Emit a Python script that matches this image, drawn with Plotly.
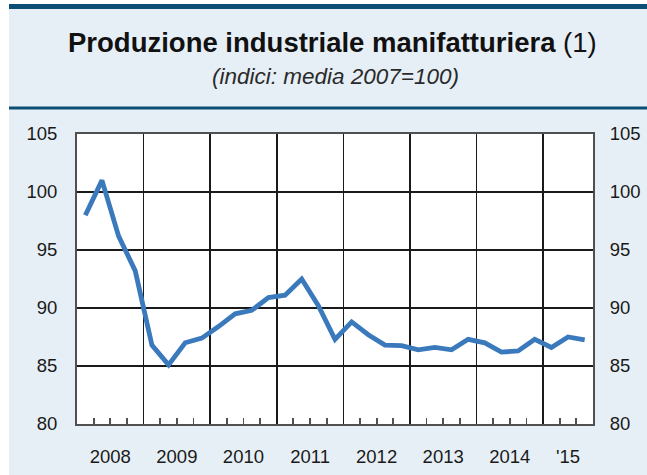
import plotly.graph_objects as go

# ---------------- data ----------------
years = [2008, 2009, 2010, 2011, 2012, 2013, 2014, 2015]
year_labels = ["2008", "2009", "2010", "2011", "2012", "2013", "2014", "'15"]
quarters = [f"{y}Q{q}" for y in years for q in (1, 2, 3, 4)][:31]  # 2008Q1 .. 2015Q3
values = [
    98.0, 101.0, 96.2, 93.2,      # 2008
    86.8, 85.1, 87.0, 87.4,       # 2009
    88.4, 89.5, 89.8, 90.9,       # 2010
    91.1, 92.5, 90.2, 87.3,       # 2011
    88.8, 87.7, 86.8, 86.75,      # 2012
    86.4, 86.6, 86.4, 87.3,       # 2013
    87.0, 86.2, 86.3, 87.3,       # 2014
    86.6, 87.5, 87.25,            # 2015
]
y_ticks = [80, 85, 90, 95, 100, 105]

# quarter label -> position on a continuous year scale (mid-quarter)
def qpos(label):
    y, q = label.split("Q")
    return int(y) + (int(q) - 0.5) / 4.0

x = [qpos(q) for q in quarters]
x_end = years[-1] + 0.75
year_bounds = years[1:]
quarter_bounds = [y + f for y in years for f in (0.25, 0.5, 0.75) if y + f < x_end]
label_pos = [y + 0.5 for y in years[:-1]] + [(years[-1] + x_end) / 2]

# ---------------- layout geometry (reference pixels) ----------------
# canvas slightly larger than the 647x475 window so the page is shown 1:1
W, H = 657, 482
L, T = 77, 134
R, B = W - 593, H - 424
PW, PH = W - L - R, H - T - B

def px(xp):
    return (xp - L) / PW

def py(yp):
    return (H - B - yp) / PH

FONT = "Liberation Sans, Arial, sans-serif"
TXT = "#1a1a1a"
GRID = "#1a1a1a"
BORDER = "#505050"
PANEL = "#e7eff6"
DARK = "#0d4e74"
LINE = "#3a7abc"

fig = go.Figure()
fig.add_trace(go.Scatter(x=x, y=values, mode="lines",
                         line=dict(color=LINE, width=4.8),
                         xaxis="x", yaxis="y", hoverinfo="skip", showlegend=False))
# invisible copy anchoring the label axes
fig.add_trace(go.Scatter(x=x, y=values, mode="lines", opacity=0,
                         line=dict(color=LINE, width=0.1),
                         xaxis="x2", yaxis="y2", hoverinfo="skip", showlegend=False))

tickfont = dict(family=FONT, size=18.5, color=TXT)

fig.update_layout(
    width=W, height=H, autosize=False,
    margin=dict(l=L, r=R, t=T, b=B, pad=0),
    paper_bgcolor="white",
    plot_bgcolor="white",
    showlegend=False,
    hovermode=False,
    xaxis=dict(range=[years[0], x_end], tickmode="array", tickvals=year_bounds,
               showticklabels=False, ticks="", showgrid=True, gridcolor=GRID, gridwidth=1.6,
               zeroline=False, showline=True, linecolor=BORDER, linewidth=2, mirror=True,
               minor=dict(tickmode="array", tickvals=quarter_bounds, ticks="inside",
                          ticklen=6, tickwidth=1.8, tickcolor=BORDER, showgrid=False)),
    xaxis2=dict(range=[years[0], x_end], overlaying="x", anchor="y", side="bottom",
                tickmode="array", tickvals=label_pos, ticktext=year_labels,
                ticks="outside", ticklen=16, tickcolor="rgba(0,0,0,0)",
                showgrid=False, zeroline=False, showline=False, tickfont=tickfont),
    yaxis=dict(range=[80, 105], tickmode="array", tickvals=y_ticks,
               ticks="outside", ticklen=14, tickcolor="rgba(0,0,0,0)",
               showgrid=True, gridcolor=GRID, gridwidth=1.6, zeroline=False,
               showline=True, linecolor=BORDER, linewidth=2, mirror=True, tickfont=tickfont),
    yaxis2=dict(range=[80, 105], overlaying="y", anchor="x", side="right",
                tickmode="array", tickvals=y_ticks,
                ticks="outside", ticklen=12, tickcolor="rgba(0,0,0,0)",
                showgrid=False, zeroline=False, showline=False, tickfont=tickfont),
    shapes=[
        dict(type="rect", xref="paper", yref="paper", layer="below",
             x0=px(9), x1=px(W), y0=py(H), y1=py(4), fillcolor=PANEL, line=dict(width=0)),
        dict(type="rect", xref="paper", yref="paper", layer="below",
             x0=0, x1=1, y0=0, y1=1, fillcolor="white", line=dict(width=0)),
        dict(type="rect", xref="paper", yref="paper", layer="above",
             x0=px(9), x1=px(W), y0=py(9), y1=py(4), fillcolor=DARK, line=dict(width=0)),
        dict(type="rect", xref="paper", yref="paper", layer="above",
             x0=px(9), x1=px(W), y0=py(109.5), y1=py(106.5), fillcolor=DARK, line=dict(width=0)),
    ],
    annotations=[
        dict(text="<b>Produzione industriale manifatturiera</b> (1)", xref="paper", yref="paper",
             x=px(332), y=py(42), xanchor="center", yanchor="middle", showarrow=False,
             font=dict(family=FONT, size=27.5, color="#111111")),
        dict(text="<i>(indici: media 2007=100)</i>", xref="paper", yref="paper",
             x=px(335), y=py(77), xanchor="center", yanchor="middle", showarrow=False,
             font=dict(family=FONT, size=22.5, color="#2a2a2a")),
    ],
)

fig.write_html(
    "out.html",
    config={"responsive": False, "displayModeBar": False, "staticPlot": True},
    post_script="document.body.style.margin='0';document.body.style.overflow='hidden';",
)
